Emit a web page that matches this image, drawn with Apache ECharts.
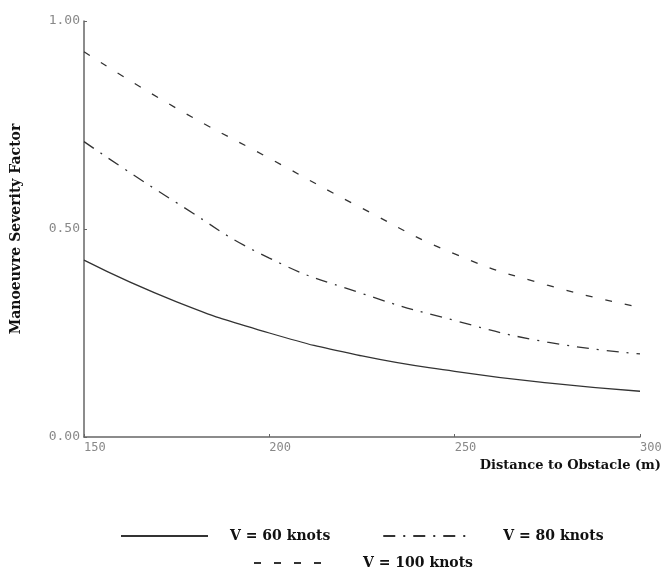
<!DOCTYPE html>
<html>
<head>
<meta charset="utf-8">
<script src="https://cdn.jsdelivr.net/npm/echarts@6/dist/echarts.min.js"></script>
<style>
  html, body { margin: 0; padding: 0; background: #fff; }
  #chart { width: 664px; height: 569px; }
</style>
</head>
<body>
<div id="chart"></div>
<script>
// distance to obstacle (m)
const distances = [150, 175, 200, 225, 250, 275, 300]
// manoeuvre severity factor per speed
const v60 = [0.425, 0.325, 0.25, 0.195, 0.158, 0.13, 0.11]
const v80 = [0.71, 0.563, 0.43, 0.345, 0.28, 0.228, 0.2]
const v100 = [0.926, 0.79, 0.67, 0.55, 0.44, 0.365, 0.312]
const yTicks = [0, 0.5, 1]

const chart = echarts.init(document.getElementById('chart'))

function pairs(values) {
  return distances.map((d, i) => [d, values[i]])
}

const serifBold = { fontFamily: 'DejaVu Serif', fontWeight: 'bold', color: '#111' }
const tickFont = { fontFamily: 'DejaVu Sans Mono', color: '#888' }
const lineColor = '#333'

// gap between legend line sample and its text
const legendGaps = { 'V = 60 knots': 'a', 'V = 80 knots': 'b', 'V = 100 knots': 'c' }

const legendText = Object.assign({
  fontSize: 14,
  rich: { a: { width: 17 }, b: { width: 28 }, c: { width: 29 } }
}, serifBold)

chart.setOption({
  backgroundColor: '#fff',
  animation: false,
  grid: { left: 84, right: 24, top: 21, bottom: 132, outerBoundsMode: 'none' },
  xAxis: {
    type: 'value',
    min: 150,
    max: 300,
    interval: 50,
    name: 'Distance to Obstacle (m)',
    nameLocation: 'end',
    nameGap: 21,
    nameTextStyle: Object.assign({ fontSize: 13, align: 'right', verticalAlign: 'top', padding: [22, 0, 0, 0] }, serifBold),
    axisLine: { lineStyle: { color: '#666', width: 1.5 } },
    axisTick: { inside: true, length: 3, lineStyle: { color: '#666' } },
    axisLabel: Object.assign({ fontSize: 12, align: 'left', margin: 5 }, tickFont),
    splitLine: { show: false }
  },
  yAxis: {
    type: 'value',
    min: 0,
    max: 1,
    interval: 0.5,
    name: 'Manoeuvre Severity Factor',
    nameLocation: 'middle',
    nameGap: 61,
    nameTextStyle: Object.assign({ fontSize: 14 }, serifBold),
    axisLine: { show: true, lineStyle: { color: '#666', width: 1.5 } },
    axisTick: { show: true, inside: true, length: 3, lineStyle: { color: '#666' } },
    axisLabel: Object.assign({
      fontSize: 13,
      margin: 4,
      verticalAlign: 'middle',
      padding: [0, 0, 4, 0],
      formatter: v => yTicks.includes(v) ? v.toFixed(2) : ''
    }, tickFont),
    splitLine: { show: false }
  },
  legend: [
    {
      data: ['V = 60 knots', 'V = 80 knots'],
      left: 115,
      top: 524,
      itemWidth: 87,
      itemHeight: 12,
      itemGap: 52,
      itemStyle: { opacity: 0 },
      formatter: name => '{' + legendGaps[name] + '|}' + name,
      textStyle: legendText
    },
    {
      data: ['V = 100 knots'],
      left: 248,
      top: 551,
      itemWidth: 75,
      itemHeight: 12,
      itemStyle: { opacity: 0 },
      formatter: name => '{' + legendGaps[name] + '|}' + name,
      textStyle: legendText
    }
  ],
  series: [
    {
      name: 'V = 60 knots',
      type: 'line',
      data: pairs(v60),
      smooth: true,
      symbol: 'none',
      lineStyle: { color: lineColor, width: 1.3, type: 'solid' },
      itemStyle: { color: lineColor }
    },
    {
      name: 'V = 80 knots',
      type: 'line',
      data: pairs(v80),
      smooth: true,
      symbol: 'none',
      lineStyle: { color: lineColor, width: 1.3, type: [12, 8, 2, 8] },
      itemStyle: { color: lineColor }
    },
    {
      name: 'V = 100 knots',
      type: 'line',
      data: pairs(v100),
      smooth: true,
      symbol: 'none',
      lineStyle: { color: lineColor, width: 1.3, type: [7, 13] },
      itemStyle: { color: lineColor }
    }
  ]
})
</script>
</body>
</html>
